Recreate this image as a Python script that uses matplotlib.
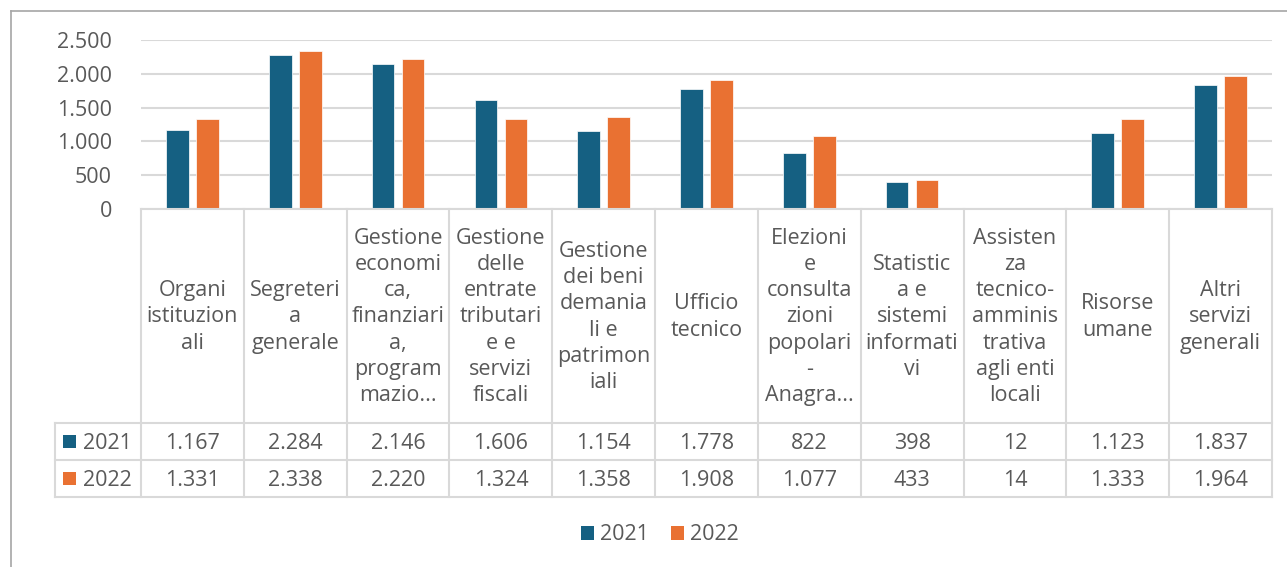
import matplotlib
matplotlib.use("Agg")
import matplotlib.pyplot as plt
from matplotlib.lines import Line2D
from matplotlib.patches import Rectangle
import matplotlib.transforms as mtransforms

plt.rcParams['font.family'] = ['Open Sans', 'DejaVu Sans']

categories = [
    "Organi\nistituzion\nali",
    "Segreteri\na\ngenerale",
    "Gestione\neconomi\nca,\nfinanziari\na,\nprogram\nmazio...",
    "Gestione\ndelle\nentrate\ntributari\ne e\nservizi\nfiscali",
    "Gestione\ndei beni\ndemania\nli e\npatrimon\niali",
    "Ufficio\ntecnico",
    "Elezioni\ne\nconsulta\nzioni\npopolari\n-\nAnagra...",
    "Statistic\na e\nsistemi\ninformati\nvi",
    "Assisten\nza\ntecnico-\namminis\ntrativa\nagli enti\nlocali",
    "Risorse\numane",
    "Altri\nservizi\ngenerali",
]
values_2021 = [1167, 2284, 2146, 1606, 1154, 1778, 822, 398, 12, 1123, 1837]
values_2022 = [1331, 2338, 2220, 1324, 1358, 1908, 1077, 433, 14, 1333, 1964]
series_names = ["2021", "2022"]
yticks = [0, 500, 1000, 1500, 2000, 2500]

C1 = "#156082"
C2 = "#E97132"
TXT = "#595959"
GRID = "#D9D9D9"
FS = 15.5

W, H = 1287, 567
fig = plt.figure(figsize=(W / 100, H / 100), dpi=100)

def fx(x):
    return x / W

def fy(y):
    return 1 - y / H

L, R, T, B = 141, 1272, 40, 209
ax = fig.add_axes([fx(L), fy(B), fx(R) - fx(L), fy(T) - fy(B)])
n = len(categories)
xs = list(range(n))
bw = 0.22
off = 0.146
ax.bar([x - off for x in xs], values_2021, width=bw, color=C1, edgecolor="white", linewidth=0.5, zorder=3)
ax.bar([x + off for x in xs], values_2022, width=bw, color=C2, edgecolor="white", linewidth=0.5, zorder=3)
ax.set_xlim(-0.5, n - 0.5)
ax.set_ylim(0, 2500)
ax.set_yticks(yticks)
ax.set_yticklabels([f"{v:,}".replace(",", ".") for v in yticks], color=TXT, fontsize=FS)
ax.tick_params(axis="y", length=0, pad=21)
ax.set_xticks([])
for s in ax.spines.values():
    s.set_visible(False)
ax.yaxis.grid(True, color=GRID, linewidth=1.5, zorder=0)
ax.set_axisbelow(True)

# data table
bt = mtransforms.blended_transform_factory(ax.transData, fig.transFigure)
ytop, yh, y1, y2 = 209, 423, 460, 497
lw = 1.5
for i in range(n + 1):
    fig.add_artist(Line2D([i - 0.5, i - 0.5], [fy(ytop), fy(y2)], transform=bt, color=GRID, lw=lw))
fig.add_artist(Line2D([fx(L), fx(R)], [fy(ytop), fy(ytop)], transform=fig.transFigure, color=GRID, lw=lw))
for yy in (yh, y1, y2):
    fig.add_artist(Line2D([fx(55), fx(R)], [fy(yy), fy(yy)], transform=fig.transFigure, color=GRID, lw=lw))
fig.add_artist(Line2D([fx(55), fx(55)], [fy(yh), fy(y2)], transform=fig.transFigure, color=GRID, lw=lw))

for i, lab in enumerate(categories):
    fig.text(i, fy((ytop + yh) / 2 + 1), lab, transform=bt, ha="center", va="center",
             color=TXT, fontsize=FS, linespacing=1.33, multialignment="center")
    fig.text(i, fy((yh + y1) / 2 + 2), f"{values_2021[i]:,}".replace(",", "."), transform=bt,
             ha="center", va="center", color=TXT, fontsize=FS)
    fig.text(i, fy((y1 + y2) / 2 + 2), f"{values_2022[i]:,}".replace(",", "."), transform=bt,
             ha="center", va="center", color=TXT, fontsize=FS)

for (yy0, yy1), name, col in [((yh, y1), series_names[0], C1), ((y1, y2), series_names[1], C2)]:
    yc = (yy0 + yy1) / 2
    fig.add_artist(Rectangle((fx(63), fy(yc + 6.5)), fx(13), 13 / H, transform=fig.transFigure,
                             facecolor=col, edgecolor="none"))
    fig.text(fx(83), fy(yc + 2), name, ha="left", va="center", color=TXT, fontsize=FS)

# legend
handles = [Rectangle((0, 0), 1, 1, facecolor=C1), Rectangle((0, 0), 1, 1, facecolor=C2)]
fig.legend(handles, series_names, loc="center", bbox_to_anchor=(fx(660), fy(535)), ncol=2,
           frameon=False, fontsize=FS, labelcolor=TXT, handlelength=0.6, handleheight=0.6,
           handletextpad=0.3, columnspacing=1.0)

# chart border
fig.add_artist(Line2D([fx(11), fx(11)], [fy(11), 0], transform=fig.transFigure, color="#A6A6A6", lw=1.2))
fig.add_artist(Line2D([fx(11), 1], [fy(11), fy(11)], transform=fig.transFigure, color="#A6A6A6", lw=1.2))

fig.savefig("out.png", dpi=100, facecolor="white")
